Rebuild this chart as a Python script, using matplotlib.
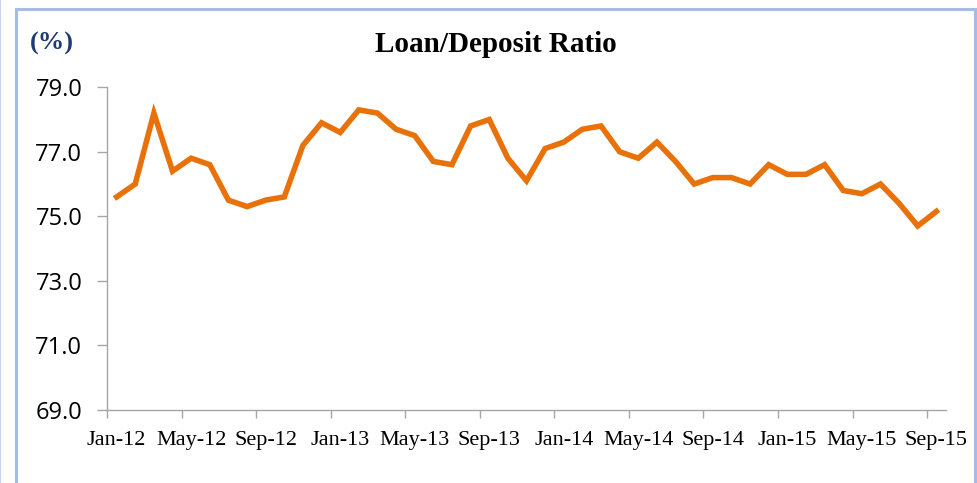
import matplotlib
matplotlib.use("Agg")
import matplotlib.pyplot as plt
from matplotlib.patches import Rectangle
import numpy as np

# monthly loan/deposit ratio, Jan-12 .. Sep-15
ratio = [75.6, 76.0, 78.2, 76.4, 76.8, 76.6, 75.5, 75.3, 75.5, 75.6,
         77.2, 77.9, 77.6, 78.3, 78.2, 77.7, 77.5, 76.7, 76.6, 77.8,
         78.0, 76.8, 76.1, 77.1, 77.3, 77.7, 77.8, 77.0, 76.8, 77.3,
         76.7, 76.0, 76.2, 76.2, 76.0, 76.6, 76.3, 76.3, 76.6, 75.8,
         75.7, 76.0, 75.4, 74.7, 75.15]
tick_labels = ["Jan-12", "May-12", "Sep-12", "Jan-13", "May-13", "Sep-13",
               "Jan-14", "May-14", "Sep-14", "Jan-15", "May-15", "Sep-15"]
y_ticks = [69, 71, 73, 75, 77, 79]

fig = plt.figure(figsize=(9.78, 4.83), dpi=100)
ax = fig.add_axes([107.3/978, 1-409.7/483, (945.7-107.3)/978, (409.7-87.3)/483])

x = np.arange(len(ratio))
ax.plot(x, ratio, color="#E8710A", lw=4.0, solid_joinstyle="miter")

ax.set_xlim(-0.5, len(ratio) - 0.5)
ax.set_ylim(69, 79)

# ticks between categories, labels on category centres
ax.set_xticks(np.arange(-0.5, len(ratio) - 0.5, 4))
ax.set_xticklabels([])
ax.set_xticks(np.arange(0, len(ratio), 4), minor=True)
ax.set_xticklabels(tick_labels, minor=True, family="Liberation Serif", fontsize=16)
ax.tick_params(axis="x", which="minor", length=0, pad=15)
ax.tick_params(axis="x", which="major", length=6, color="#a6a6a6", width=1)

ax.set_yticks(y_ticks)
ax.set_yticklabels([f"{v:.1f}" for v in y_ticks], family="Open Sans", fontsize=17)
ax.tick_params(axis="y", length=7, color="#a6a6a6", width=1, pad=11)

for s in ["top", "right"]:
    ax.spines[s].set_visible(False)
for s in ["left", "bottom"]:
    ax.spines[s].set_color("#a6a6a6")
    ax.spines[s].set_linewidth(1)

fig.text(496/978, 1-44/483, "Loan/Deposit Ratio", ha="center", va="center",
         family="Liberation Serif", fontweight="bold", fontsize=21)
fig.text(52/978, 1-43/483, "(%)", ha="center", va="center",
         family="Liberation Serif", fontweight="bold", fontsize=19, color="#1f3b73")

# light blue frame of the cropped screenshot
fig.patches.append(Rectangle((16/978, -0.1), (975-16)/978, 1.1 - 9/483,
                             transform=fig.transFigure, fill=False,
                             edgecolor="#a4bce6", lw=2.2))
fig.patches.append(Rectangle((0, 0), 1.5/978, 1, transform=fig.transFigure,
                             facecolor="#c5d5f0", edgecolor="none"))

fig.savefig("out.png", dpi=100)
